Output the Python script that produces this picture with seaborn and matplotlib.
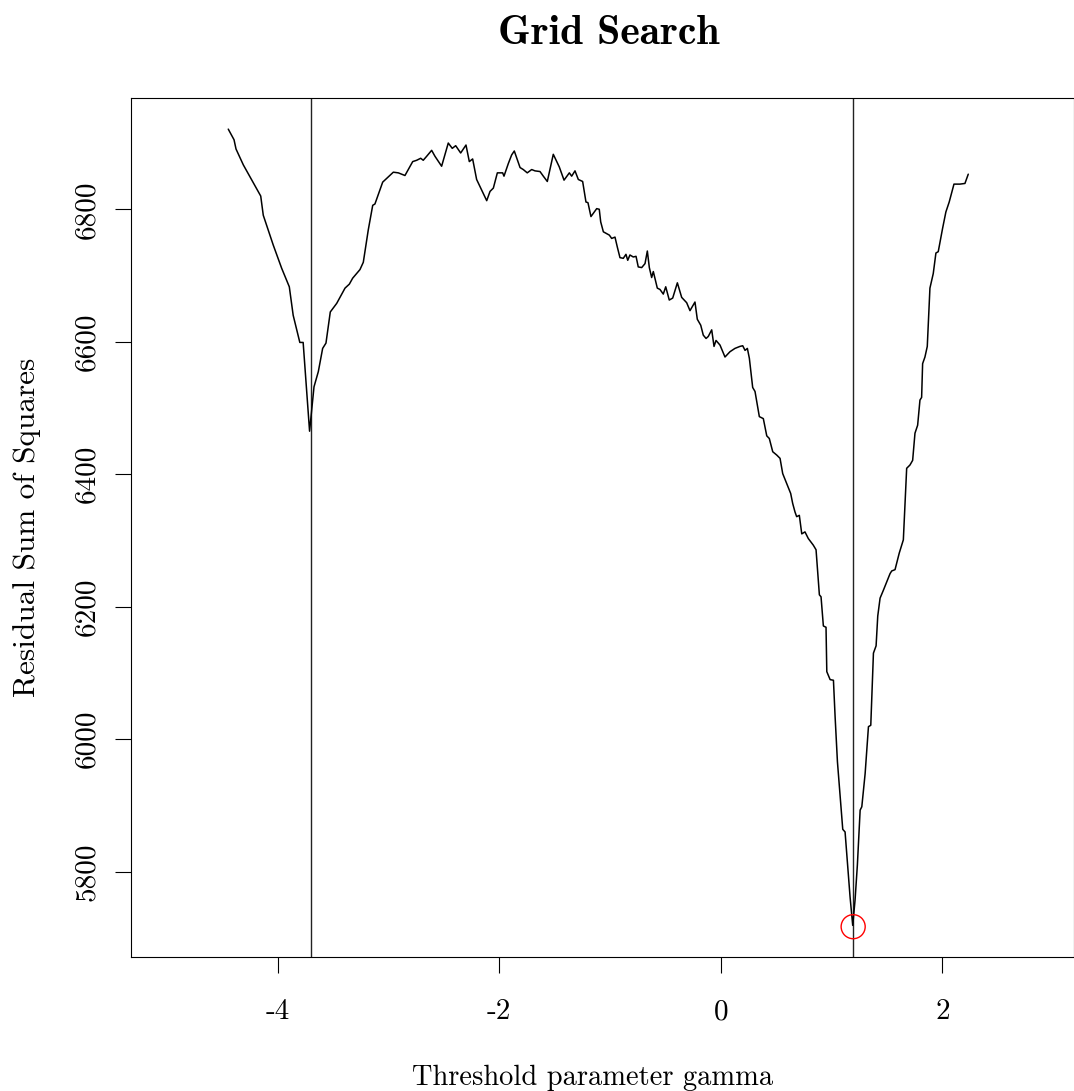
import numpy as np
import pandas as pd
import matplotlib
matplotlib.use("Agg")
import matplotlib.pyplot as plt
import seaborn as sns

gamma = [-4.446, -4.394, -4.376, -4.31, -4.25, -4.153, -4.13, -4.04, -3.964, -3.895,
         -3.86, -3.80, -3.77, -3.712, -3.672, -3.633, -3.594, -3.564, -3.525, -3.467,
         -3.392, -3.353, -3.323, -3.257, -3.227, -3.182, -3.142, -3.122, -3.052, -2.956,
         -2.911, -2.851, -2.781, -2.745, -2.709, -2.686, -2.655, -2.610, -2.58, -2.52,
         -2.46, -2.424, -2.393, -2.348, -2.30, -2.27, -2.24, -2.204, -2.158, -2.113,
         -2.083, -2.053, -2.017, -1.969, -1.957, -1.918, -1.888, -1.864, -1.812, -1.783,
         -1.747, -1.707, -1.677, -1.632, -1.602, -1.566, -1.512, -1.458, -1.415, -1.367,
         -1.346, -1.316, -1.286, -1.247, -1.217, -1.199, -1.172, -1.12, -1.097, -1.084,
         -1.06, -1.006, -0.985, -0.955, -0.934, -0.91, -0.88, -0.856, -0.84, -0.82,
         -0.79, -0.765, -0.745, -0.714, -0.684, -0.663, -0.645, -0.624, -0.609, -0.573,
         -0.549, -0.519, -0.497, -0.465, -0.434, -0.392, -0.353, -0.308, -0.278, -0.233,
         -0.212, -0.181, -0.158, -0.133, -0.113, -0.082, -0.061, -0.043, -0.007, 0.038,
         0.083, 0.128, 0.173, 0.198, 0.219, 0.240, 0.258, 0.288, 0.309, 0.348,
         0.384, 0.415, 0.438, 0.469, 0.505, 0.535, 0.559, 0.595, 0.631, 0.649,
         0.670, 0.685, 0.709, 0.731, 0.760, 0.790, 0.835, 0.860, 0.890, 0.905,
         0.926, 0.950, 0.957, 0.987, 1.017, 1.032, 1.053, 1.071, 1.101, 1.122,
         1.167, 1.191, 1.212, 1.233, 1.258, 1.273, 1.303, 1.333, 1.354, 1.378,
         1.402, 1.417, 1.438, 1.468, 1.528, 1.543, 1.573, 1.588, 1.611, 1.648,
         1.678, 1.708, 1.732, 1.753, 1.777, 1.798, 1.813, 1.822, 1.843, 1.864,
         1.888, 1.918, 1.942, 1.963, 2.002, 2.032, 2.062, 2.105, 2.159, 2.204,
         2.234]
rss = [6921, 6905, 6891, 6867, 6849, 6820, 6791, 6746, 6711, 6683,
       6640, 6599, 6599, 6465, 6532, 6555, 6590, 6598, 6645, 6658,
       6681, 6687, 6696, 6709, 6720, 6769, 6806, 6808, 6841, 6856,
       6855, 6851, 6872, 6874, 6877, 6874, 6880, 6889, 6880, 6865,
       6900, 6892, 6896, 6885, 6897, 6872, 6876, 6845, 6829, 6813,
       6827, 6832, 6855, 6855, 6850, 6869, 6882, 6888, 6863, 6860,
       6855, 6860, 6858, 6857, 6850, 6842, 6883, 6864, 6844, 6855,
       6850, 6858, 6845, 6842, 6811, 6810, 6789, 6801, 6800, 6781,
       6766, 6761, 6756, 6758, 6743, 6727, 6726, 6732, 6723, 6731,
       6728, 6729, 6713, 6712, 6718, 6737, 6712, 6697, 6706, 6681,
       6679, 6672, 6683, 6663, 6666, 6689, 6667, 6659, 6647, 6660,
       6634, 6625, 6610, 6605, 6608, 6618, 6593, 6602, 6595, 6577,
       6585, 6590, 6593, 6594, 6587, 6590, 6575, 6531, 6525, 6487,
       6484, 6458, 6454, 6434, 6429, 6424, 6401, 6386, 6371, 6356,
       6343, 6336, 6338, 6310, 6313, 6303, 6293, 6286, 6218, 6215,
       6171, 6169, 6102, 6090, 6089, 6034, 5966, 5928, 5864, 5860,
       5762, 5719, 5757, 5810, 5893, 5898, 5948, 6019, 6021, 6130,
       6141, 6186, 6213, 6225, 6250, 6254, 6256, 6266, 6281, 6301,
       6409, 6414, 6421, 6462, 6474, 6512, 6516, 6567, 6577, 6593,
       6681, 6703, 6734, 6736, 6771, 6796, 6811, 6838, 6838, 6839,
       6853]
vlines = [-3.70, 1.195]
best_gamma = [1.195]
best_rss = [5717]
xticks = [-4, -2, 0, 2]
xticklabels = ["-4", "-2", "0", "2"]
yticks = [5800, 6000, 6200, 6400, 6600, 6800]
yticklabels = ["5800", "6000", "6200", "6400", "6600", "6800"]

sns.set_theme(style="white")
plt.rcParams['font.family'] = ['cmr10', 'DejaVu Serif']
plt.rcParams['axes.unicode_minus'] = False
plt.rcParams['text.color'] = 'black'
plt.rcParams['axes.labelcolor'] = 'black'
plt.rcParams['xtick.color'] = 'black'
plt.rcParams['ytick.color'] = 'black'

df = pd.DataFrame({"gamma": gamma, "rss": rss})
best = pd.DataFrame({"gamma": best_gamma, "rss": best_rss})

fig = plt.figure(figsize=(10.74, 10.91), dpi=100)
ax = fig.add_axes([131/1074, 134.3/1091, (1073.5-131)/1074, (993-134.3)/1091])

sns.lineplot(data=df, x="gamma", y="rss", estimator=None, sort=False,
             color="black", linewidth=1.1, ax=ax)
for v in vlines:
    ax.axvline(v, color="#222222", linewidth=1.0, zorder=1)
sns.scatterplot(data=best, x="gamma", y="rss", marker="o", s=300,
                facecolors="none", edgecolor="red", linewidth=1.0, ax=ax, zorder=5)

ax.set_xlim(-5.324, 3.184)
ax.set_ylim(5671.7, 6968)
ax.set_xticks(xticks)
ax.set_xticklabels(xticklabels)
ax.set_yticks(yticks)
ax.set_yticklabels(yticklabels, rotation=90, va="center")
ax.tick_params(axis="both", direction="out", length=11.5, width=0.8, color="black",
               labelcolor="black", labelsize=21, bottom=True, left=True)
ax.tick_params(axis="x", pad=19)
ax.tick_params(axis="y", pad=11)
for s in ax.spines.values():
    s.set_color("black")
    s.set_linewidth(0.8)
ax.set_xlabel("Threshold parameter gamma", fontsize=20.5, labelpad=28, color="black")
ax.xaxis.label.set_x(0.490)
ax.set_ylabel("Residual Sum of Squares", fontsize=22.5, labelpad=23, color="black")
fig.text(0.5666, 1 - 33/1091, "Grid Search", ha="center", va="center",
         fontsize=30, family=['cmb10', 'DejaVu Serif'], color="black")

fig.savefig("out.png", dpi=100)
